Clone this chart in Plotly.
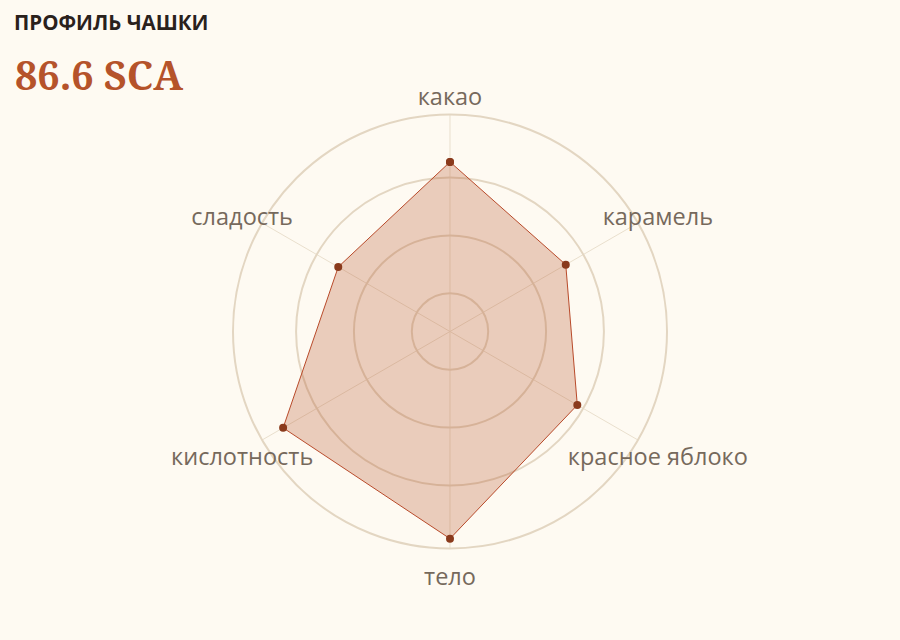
import plotly.graph_objects as go

categories = ["какао", "карамель", "красное яблоко", "тело", "кислотность", "сладость"]
scores = [9.27, 8.65, 8.88, 9.92, 9.67, 8.57]
grid_values = [7, 8, 9]
radial_range = [6.34, 10.09]
label_range = [0, 1]
label_radius = 0.96
title_text = "ПРОФИЛЬ ЧАШКИ"
score_text = "86.6 SCA"

BG = "#fefaf2"
TOP = 89.2
PLOT_H = 500.0

fig = go.Figure()
fig.add_trace(go.Scatterpolar(
    r=scores + scores[:1],
    theta=categories + categories[:1],
    mode="lines+markers",
    fill="toself",
    fillcolor="rgba(181,83,42,0.27)",
    line=dict(color="#b84a2a", width=1),
    marker=dict(color="#8a3a1c", size=8),
    hoverinfo="skip",
    showlegend=False,
    subplot="polar",
))
fig.add_trace(go.Scatterpolar(
    r=[label_radius] * len(categories),
    theta=categories,
    mode="text",
    text=categories,
    textposition="middle center",
    textfont=dict(family="Open Sans", size=23.5, color="#76695c"),
    cliponaxis=False,
    hoverinfo="skip",
    showlegend=False,
    subplot="polar2",
))

angular_common = dict(
    rotation=90,
    direction="clockwise",
    categoryorder="array",
    categoryarray=categories,
    showticklabels=False,
    ticks="",
)

fig.update_layout(
    width=900,
    height=640,
    paper_bgcolor=BG,
    plot_bgcolor=BG,
    margin=dict(l=100, r=100, t=TOP, b=640 - TOP - PLOT_H),
    polar=dict(
        bgcolor="rgba(0,0,0,0)",
        domain=dict(x=[0, 1], y=[(TOP + PLOT_H - 548.7) / PLOT_H, (TOP + PLOT_H - 114.7) / PLOT_H]),
        radialaxis=dict(
            range=radial_range,
            tickvals=grid_values,
            showticklabels=False,
            ticks="",
            showline=False,
            gridcolor="#e3d6c2",
            gridwidth=2,
        ),
        angularaxis=dict(
            **angular_common,
            linecolor="#e3d6c2",
            linewidth=2,
            gridcolor="#e9dfcd",
            gridwidth=1,
        ),
    ),
    polar2=dict(
        bgcolor="rgba(0,0,0,0)",
        domain=dict(x=[0, 1], y=[0, 1]),
        radialaxis=dict(range=label_range, visible=False),
        angularaxis=dict(**angular_common, showline=False, showgrid=False),
    ),
    annotations=[
        dict(
            text=title_text,
            xref="paper", yref="paper",
            x=(12 - 100) / 700, y=(TOP + PLOT_H - 22) / PLOT_H,
            xanchor="left", yanchor="middle",
            showarrow=False,
            font=dict(family="Open Sans", size=20.5, color="#2a211c", weight="bold"),
        ),
        dict(
            text=score_text,
            xref="paper", yref="paper",
            x=(13 - 100) / 700, y=(TOP + PLOT_H - 75) / PLOT_H,
            xanchor="left", yanchor="middle",
            showarrow=False,
            font=dict(family="Noto Serif, Liberation Serif, serif", size=39.5, color="#b5532a", weight="bold"),
        ),
    ],
)

fig.write_html(
    "out.html",
    config={"displayModeBar": False},
    post_script="document.body.style.margin='0px';",
)
